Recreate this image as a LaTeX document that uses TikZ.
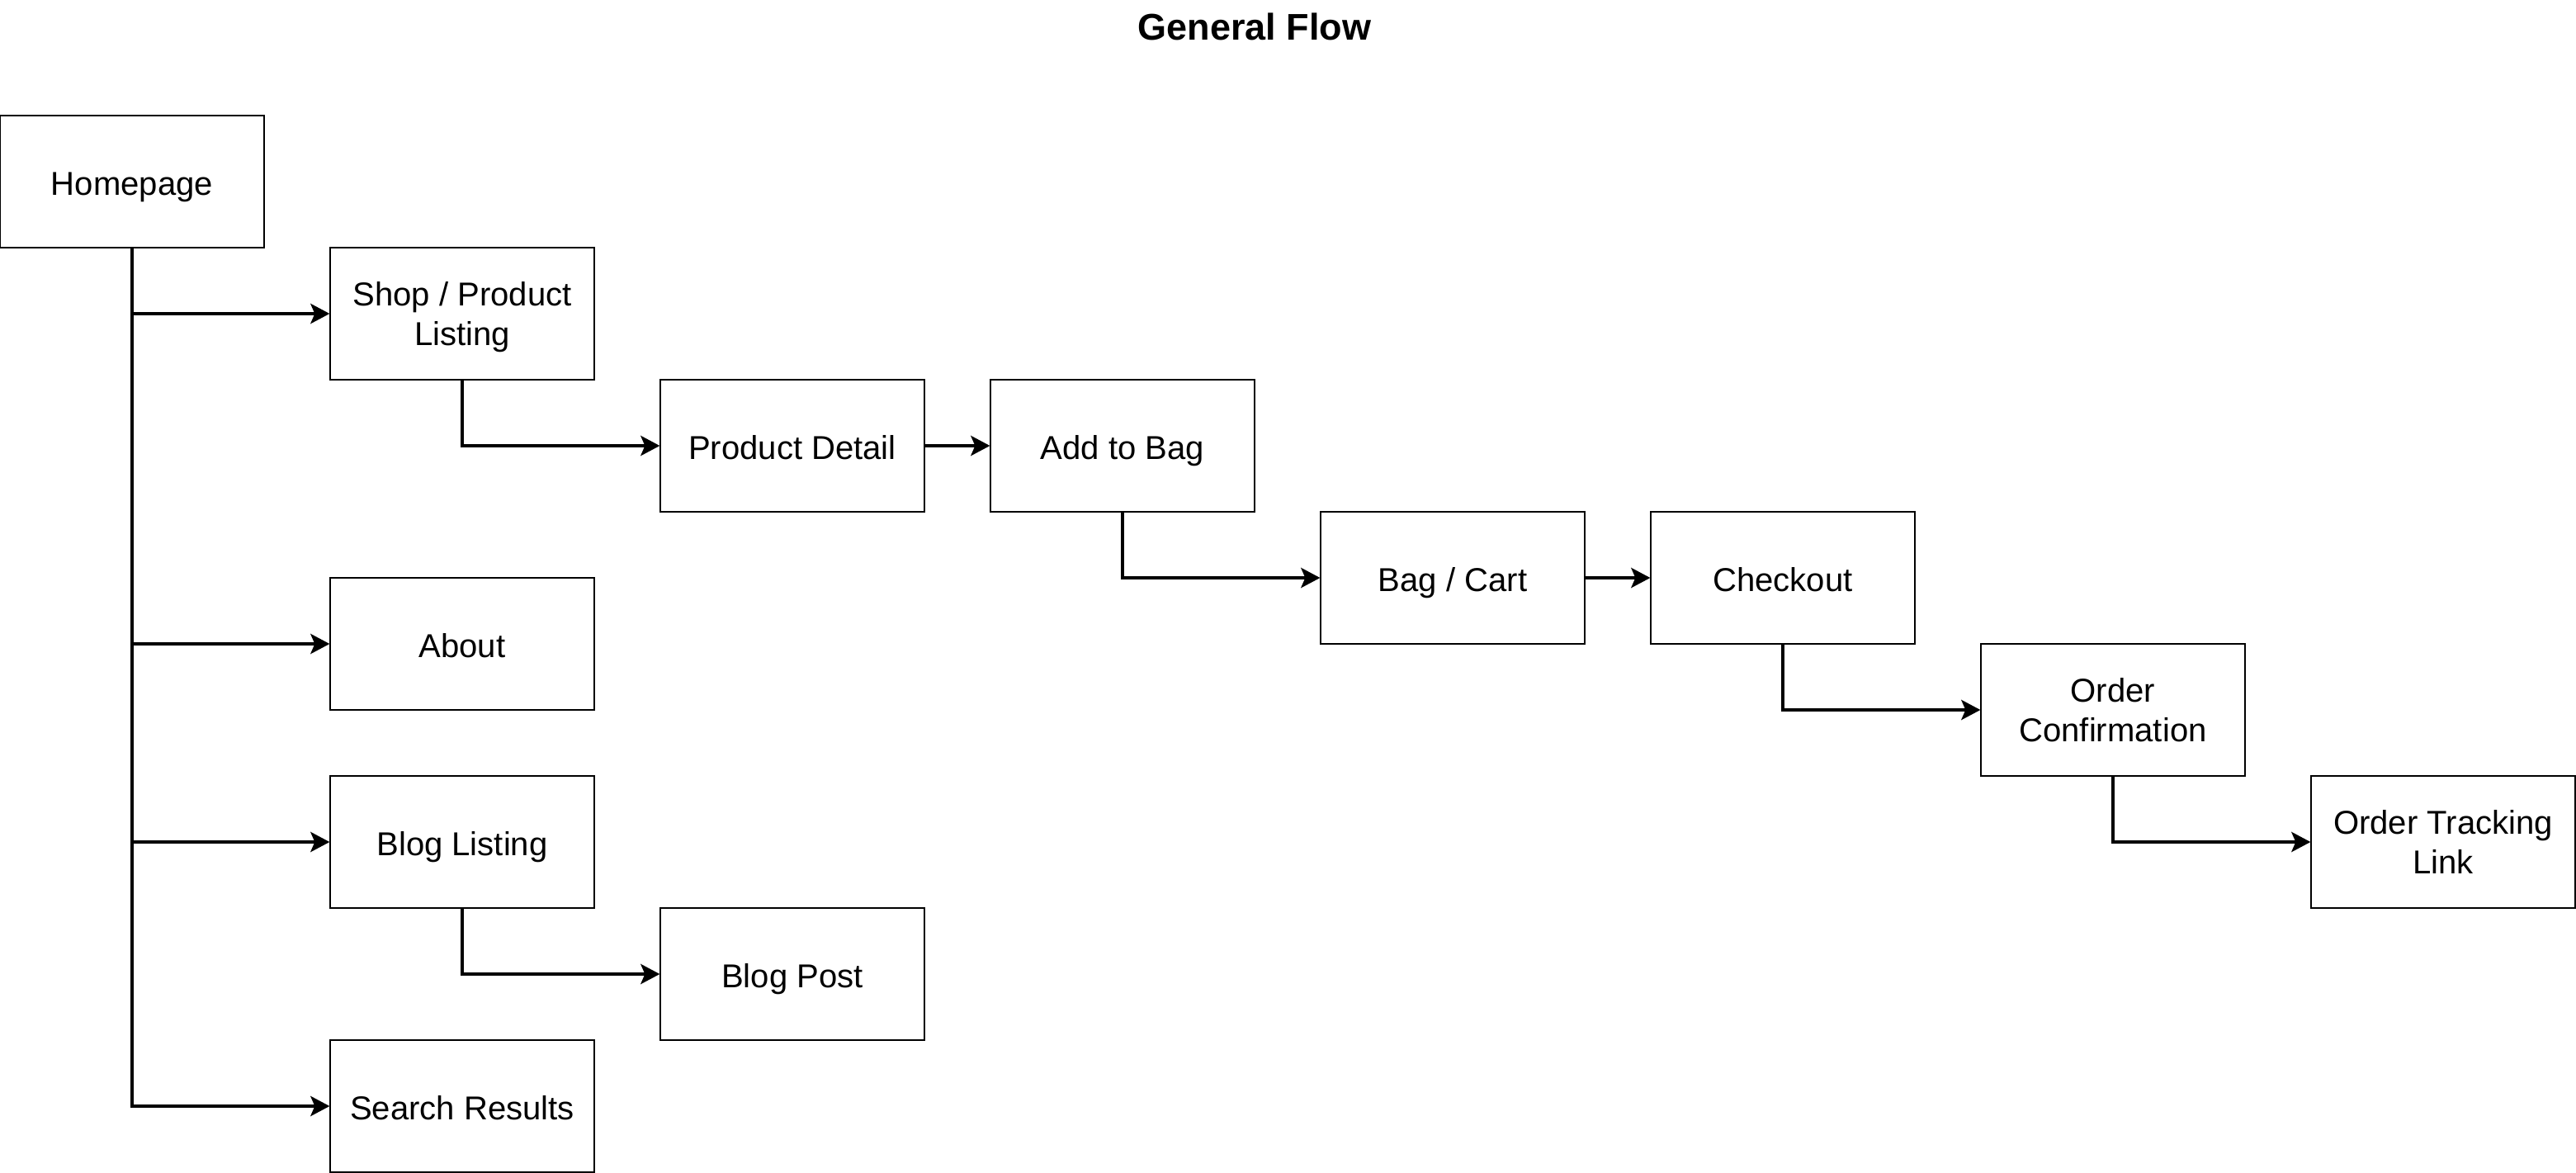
\documentclass[tikz,border=0pt]{standalone}
\usepackage{fontspec}
\setmainfont{Liberation Sans}
\usepackage{tikz}
\usetikzlibrary{arrows.meta, positioning}

\begin{document}
\begin{tikzpicture}[x=1mm, y=-1mm,
        page/.style={draw, line width=0.35pt, minimum width=32mm, minimum height=16mm,
                     align=center, inner sep=1pt, text depth=0pt,
                     execute at begin node={\rule{0pt}{9.3pt}},
                     font=\fontsize{11.4pt}{13.7pt}\selectfont},
        flow/.style={line width=1.25pt, -{Stealth[length=2.3mm, width=2.4mm, inset=0.5mm]}}]
                        \useasboundingbox (0, 0) rectangle (312.1, 142.1);
                        \node[font=\fontsize{12.8pt}{15pt}\selectfont\bfseries] (title) at (152, 3.2) {General Flow};

                        \node[page] (home) at (16, 22) {Homepage};
                        \node[page] (shop) at (56, 38) {Shop / Product\\Listing};
                        \node[page] (about) at (56, 78) {About};
                        \node[page] (blog) at (56, 102) {Blog Listing};
                        \node[page] (search) at (56, 134) {Search Results};
                        \node[page] (detail) at (96, 54) {Product Detail};
                        \node[page] (post) at (96, 118) {Blog Post};
                        \node[page] (add) at (136, 54) {Add to Bag};
                        \node[page] (cart) at (176, 70) {Bag / Cart};
                        \node[page] (checkout) at (216, 70) {Checkout};
                        \node[page] (confirm) at (256, 86) {Order\\Confirmation};
                        \node[page] (track) at (296, 102) {Order Tracking\\Link};

                        \draw[flow] (home.south) |- (shop.west);
                        \draw[flow] (home.south) |- (about.west);
                        \draw[flow] (home.south) |- (blog.west);
                        \draw[flow] (home.south) |- (search.west);
                        \draw[flow] (shop.south) |- (detail.west);
                        \draw[flow] (blog.south) |- (post.west);
                        \draw[flow] (detail) -- (add);
                        \draw[flow] (add.south) |- (cart.west);
                        \draw[flow] (cart) -- (checkout);
                        \draw[flow] (checkout.south) |- (confirm.west);
                        \draw[flow] (confirm.south) |- (track.west);
                    \end{tikzpicture}
\end{document}
